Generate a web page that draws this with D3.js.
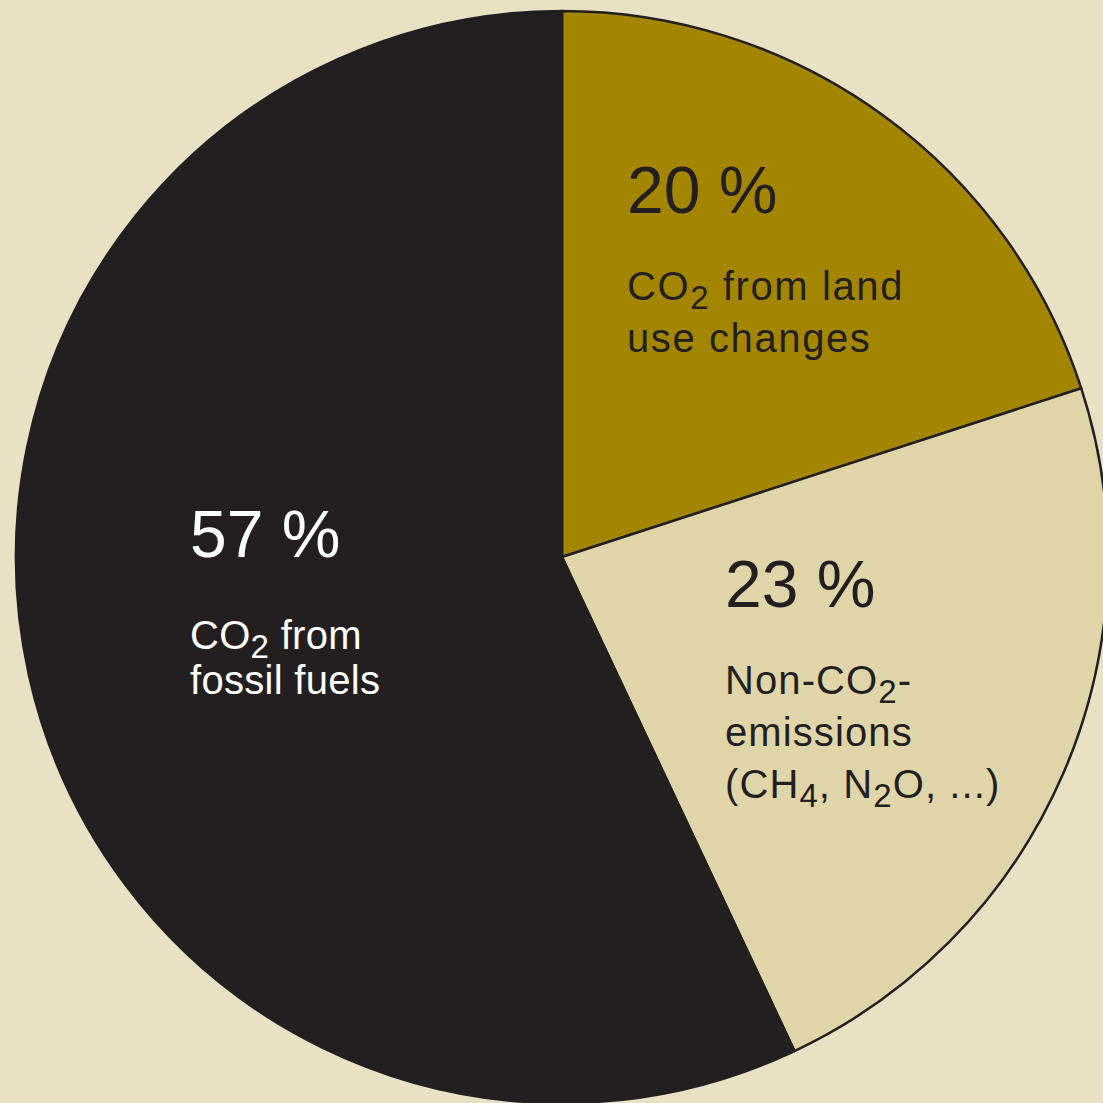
<!DOCTYPE html>
<html>
<head>
<meta charset="utf-8">
<script src="https://cdn.jsdelivr.net/npm/d3@7"></script>
<style>
  html, body { margin: 0; padding: 0; background: #e9e1c3; }
  svg { display: block; }
</style>
</head>
<body>
<svg id="chart" width="1103" height="1103"></svg>
<script>
// ---- data ----
const categories = ["CO2 from land use changes", "Non-CO2-emissions", "CO2 from fossil fuels"];
const values = [20, 23, 57];
const percentLabels = ["20 %", "23 %", "57 %"];
// label lines: arrays of segments [text, isSubscript]
const labelLines = [
  [[["CO", false], ["2", true], [" from land", false]], [["use changes", false]]],
  [[["Non-CO", false], ["2", true], ["-", false]], [["emissions", false]], [["(CH", false], ["4", true], [", N", false], ["2", true], ["O, ...)", false]]],
  [[["CO", false], ["2", true], [" from", false]], [["fossil fuels", false]]]
];
const sliceColors = ["#a38500", "#e0d5a8", "#231f20"];
const textColors = ["#231f20", "#231f20", "#ffffff"];

// ---- layout ----
const W = 1103, H = 1103;
const cx = 562, cy = 557, R = 546;
const labelPos = [ [627, 213], [725, 607], [190, 557] ];
const firstLineGap = [87, 87, 92];
const lineGap = [52, 52, 45];
const tracking = [1.6, 1.1, 0.3];

const svg = d3.select("#chart");
svg.append("rect").attr("width", W).attr("height", H).attr("fill", "#e9e1c3");

const pie = d3.pie().sort(null).value(d => d).startAngle(0).endAngle(2 * Math.PI);
const arcs = pie(values);
const arc = d3.arc().innerRadius(0).outerRadius(R);

const g = svg.append("g").attr("transform", `translate(${cx},${cy})`);
g.selectAll("path.slice")
  .data(arcs)
  .join("path")
  .attr("class", "slice")
  .attr("d", arc)
  .attr("fill", (d, i) => sliceColors[i])
  .attr("stroke", "#231f20")
  .attr("stroke-width", 2.5)
  .attr("stroke-linejoin", "round");

const font = "'Liberation Sans', Arial, Helvetica, sans-serif";
arcs.forEach((a, i) => {
  const [x, y] = labelPos[i];
  svg.append("text")
    .attr("x", x).attr("y", y)
    .attr("font-family", font)
    .attr("font-size", 66)
    .attr("fill", textColors[i])
    .text(percentLabels[i]);
  labelLines[i].forEach((line, j) => {
    const t = svg.append("text")
      .attr("x", x).attr("y", y + firstLineGap[i] + j * lineGap[i])
      .attr("font-family", font)
      .attr("font-size", 40)
      .attr("letter-spacing", tracking[i])
      .attr("fill", textColors[i]);
    line.forEach(([s, sub]) => {
      const ts = t.append("tspan").text(s);
      if (sub) ts.attr("font-size", 33).attr("baseline-shift", "-28%");
    });
  });
});
</script>
</body>
</html>
